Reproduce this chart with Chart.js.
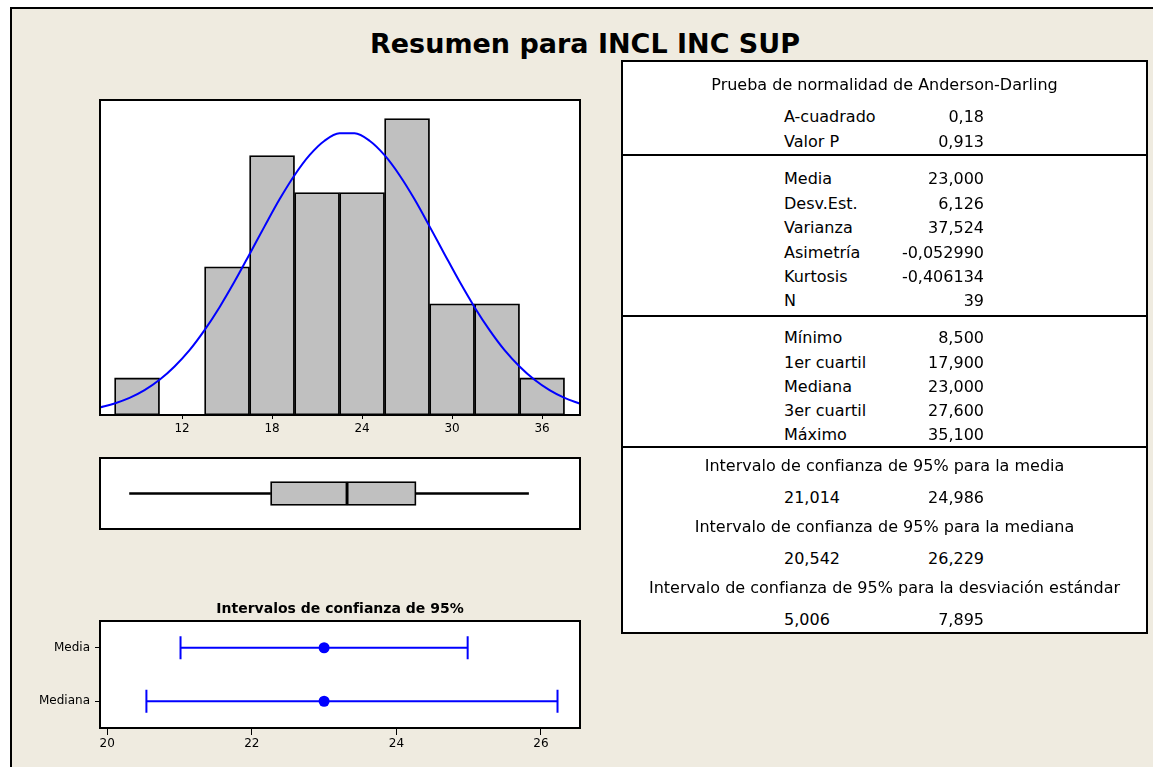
<!DOCTYPE html>
<html lang="es">
<head>
<meta charset="UTF-8">
<title>Resumen para INCL INC SUP</title>
<style>
  body { margin: 0; width: 1153px; height: 767px; overflow: hidden; background: #fff; font-family: "DejaVu Sans", sans-serif; color: #000; }
  #sheet { position: absolute; left: 10px; top: 7px; width: 1200px; height: 800px; background: #EFEBE0; border-left: 2px solid #000; border-top: 2px solid #000; }
  #stats { position: absolute; left: 621px; top: 60px; width: 523px; height: 570px; background: #fff; border: 2px solid #000; }
  .sep { position: absolute; left: 621px; width: 527px; height: 2px; background: #000; }
  .txt { position: absolute; white-space: nowrap; }
  canvas { position: absolute; }
</style>
<script src="https://cdn.jsdelivr.net/npm/chart.js"></script>
</head>
<body>
<div id="sheet"></div>
<div id="stats"></div>
<div class="sep" style="top:154px"></div>
<div class="sep" style="top:315px"></div>
<div class="sep" style="top:446px"></div>
<canvas id="hist" width="500" height="360" style="left:90px; top:90px"></canvas>
<canvas id="box" width="500" height="92" style="left:90px; top:448px"></canvas>
<canvas id="ci" width="570" height="157" style="left:20px; top:596px"></canvas>
<div id="texts"></div>

<script>
// histogram: bin centres and counts (bin width 3)
const binCenters = [9, 12, 15, 18, 21, 24, 27, 30, 33, 36];
const binCounts = [1, 0, 4, 7, 6, 6, 8, 3, 3, 1];
const histTicks = [12, 18, 24, 30, 36];

// fitted normal curve
const curveX = [6.5, 7.5, 8.5, 9.5, 10.5, 11.5, 12.5, 13.5, 14.5, 15.5, 16.5, 17.5, 18.5, 19.5, 20.5, 21.5, 22.5,
                23.5, 24.5, 25.5, 26.5, 27.5, 28.5, 29.5, 30.5, 31.5, 32.5, 33.5, 34.5, 35.5, 36.5, 37.5, 38.5];
const curveY = [0.20, 0.31, 0.46, 0.67, 0.95, 1.31, 1.75, 2.29, 2.91, 3.60, 4.34, 5.09, 5.82, 6.47, 7.01, 7.40, 7.60,
                7.60, 7.40, 7.01, 6.47, 5.82, 5.09, 4.34, 3.60, 2.91, 2.29, 1.75, 1.31, 0.95, 0.67, 0.46, 0.31];

// table values
const adLabels = ['A-cuadrado', 'Valor P'];
const adValues = ['0,18', '0,913'];
const momentLabels = ['Media', 'Desv.Est.', 'Varianza', 'Asimetría', 'Kurtosis', 'N'];
const momentValues = ['23,000', '6,126', '37,524', '-0,052990', '-0,406134', '39'];
const quantLabels = ['Mínimo', '1er cuartil', 'Mediana', '3er cuartil', 'Máximo'];
const quantValues = [8.5, 17.9, 23.0, 27.6, 35.1];

// 95% confidence intervals: media, mediana, desv. estándar
const ciTitles = ['Intervalo de confianza de 95% para la media',
                  'Intervalo de confianza de 95% para la mediana',
                  'Intervalo de confianza de 95% para la desviación estándar'];
const ciLower = [21.014, 20.542, 5.006];
const ciUpper = [24.986, 26.229, 7.895];
const ciRows = ['Media', 'Mediana'];
const ciCenters = [23.0, 23.0];
const ciTicks = [20, 22, 24, 26];

const fmt3 = v => v.toFixed(3).replace('.', ',');

// ---- text ----
const texts = document.getElementById('texts');
function put(str, x, baseline, align, size, bold) {
    const d = document.createElement('div');
    d.className = 'txt';
    d.textContent = str;
    d.style.fontSize = size + 'px';
    d.style.lineHeight = size + 'px';
    d.style.top = (baseline - 0.846 * size) + 'px';
    if (bold) d.style.fontWeight = 'bold';
    if (align === 'left') {
        d.style.left = x + 'px';
    } else {
        d.style.width = '600px';
        d.style.textAlign = align;
        d.style.left = (align === 'right' ? x - 600 : x - 300) + 'px';
    }
    texts.appendChild(d);
}

put('Resumen para INCL INC SUP', 585, 53, 'center', 27, true);

const labX = 784, valX = 984, midX = 884.5;
put('Prueba de normalidad de Anderson-Darling', midX, 91, 'center', 16);
adLabels.forEach((l, i) => { put(l, labX, 123 + 25 * i, 'left', 16); put(adValues[i], valX, 123 + 25 * i, 'right', 16); });
momentLabels.forEach((l, i) => { put(l, labX, 185 + 24.4 * i, 'left', 16); put(momentValues[i], valX, 185 + 24.4 * i, 'right', 16); });
quantLabels.forEach((l, i) => { put(l, labX, 344 + 24.2 * i, 'left', 16); put(fmt3(quantValues[i]), valX, 344 + 24.2 * i, 'right', 16); });
ciTitles.forEach((t, i) => {
    put(t, midX, 472 + 61 * i, 'center', 16);
    put(fmt3(ciLower[i]), labX, 503.5 + 61 * i, 'left', 16);
    put(fmt3(ciUpper[i]), valX, 503.5 + 61 * i, 'right', 16);
});

// ---- charts ----
Chart.defaults.font.family = '"DejaVu Sans", sans-serif';
Chart.defaults.color = '#000';

const framePlugin = {
    id: 'frame',
    beforeDraw(chart) {
        const a = chart.chartArea, c = chart.ctx;
        c.save();
        c.fillStyle = '#fff';
        c.fillRect(a.left, a.top, a.right - a.left, a.bottom - a.top);
        c.restore();
    },
    afterDatasetsDraw(chart) {
        const a = chart.chartArea, c = chart.ctx;
        c.save();
        c.strokeStyle = '#000';
        c.lineWidth = 2;
        c.strokeRect(a.left, a.top, a.right - a.left, a.bottom - a.top);
        c.restore();
    }
};

const noPad = s => { s.paddingLeft = 0; s.paddingRight = 0; };
const blue = '#0000FF';
const base = { responsive: false, animation: false, events: [],
               plugins: { legend: { display: false }, tooltip: { enabled: false } } };

// histogram with normal curve
new Chart(document.getElementById('hist'), {
    type: 'bar',
    data: {
        datasets: [
            { type: 'line', data: curveX.map((x, i) => ({ x: x, y: curveY[i] })), borderColor: blue, borderWidth: 2,
              pointRadius: 0, cubicInterpolationMode: 'monotone', fill: false },
            { type: 'bar', data: binCenters.map((x, i) => ({ x: x, y: binCounts[i] })), backgroundColor: '#C0C0C0',
              borderColor: '#000', borderWidth: 1.8, borderSkipped: false, barPercentage: 1, categoryPercentage: 1 }
        ]
    },
    options: Object.assign({}, base, {
        layout: { autoPadding: false, padding: { left: 10, right: 10, top: 10, bottom: 5 } },
        scales: {
            x: { type: 'linear', min: 6.53, max: 38.53, offset: false,
                 grid: { offset: false, drawOnChartArea: false, color: '#000', tickLength: 4 },
                 border: { display: false },
                 ticks: { font: { size: 12 }, padding: 3 },
                 afterBuildTicks: s => { s.ticks = histTicks.map(v => ({ value: v })); },
                 afterFit: s => { s.height = 30; noPad(s); } },
            y: { min: 0, max: 8.5, display: false }
        }
    }),
    plugins: [framePlugin]
});

// boxplot
const q = quantValues;
new Chart(document.getElementById('box'), {
    type: 'bar',
    data: {
        labels: ['INCL INC SUP'],
        datasets: [
            { data: [[q[0], q[1]]], backgroundColor: '#000', borderWidth: 0, barThickness: 2, grouped: false },
            { data: [[q[3], q[4]]], backgroundColor: '#000', borderWidth: 0, barThickness: 2, grouped: false },
            { data: [[q[1], q[2]]], backgroundColor: '#C0C0C0', borderColor: '#000', borderWidth: 1.8,
              borderSkipped: false, barThickness: 24, grouped: false },
            { data: [[q[2], q[3]]], backgroundColor: '#C0C0C0', borderColor: '#000', borderWidth: 1.8,
              borderSkipped: false, barThickness: 24, grouped: false }
        ]
    },
    options: Object.assign({}, base, {
        indexAxis: 'y',
        layout: { autoPadding: false, padding: { left: 10, right: 10, top: 10, bottom: 11 } },
        scales: {
            x: { type: 'linear', min: 6.53, max: 38.53, display: false },
            y: { display: false }
        }
    }),
    plugins: [framePlugin]
});

// confidence interval plot
const ciSets = ciRows.map((r, i) => ({
    type: 'line',
    data: [{ x: ciLower[i], y: r }, { x: ciUpper[i], y: r }],
    borderColor: blue, borderWidth: 2,
    pointStyle: 'line', pointRotation: 90, pointRadius: 11.5,
    pointBorderColor: blue, pointBorderWidth: 2, showLine: true
}));
ciSets.push({
    type: 'scatter',
    data: ciRows.map((r, i) => ({ x: ciCenters[i], y: r })),
    pointRadius: 5.5, backgroundColor: blue, borderWidth: 0
});

new Chart(document.getElementById('ci'), {
    type: 'scatter',
    data: { datasets: ciSets },
    options: Object.assign({}, base, {
        layout: { autoPadding: false, padding: { left: 0, right: 10, top: 0, bottom: 0 } },
        plugins: {
            legend: { display: false }, tooltip: { enabled: false },
            title: { display: true, fullSize: false, text: 'Intervalos de confianza de 95%',
                     font: { size: 14, weight: 'bold', lineHeight: 1 }, padding: { top: 6, bottom: 5 } }
        },
        scales: {
            x: { type: 'linear', min: 19.9, max: 26.54,
                 grid: { drawOnChartArea: false, color: '#000', tickLength: 7 },
                 border: { display: false },
                 ticks: { font: { size: 12 }, padding: 2 },
                 afterBuildTicks: s => { s.ticks = ciTicks.map(v => ({ value: v })); },
                 afterFit: s => { s.height = 25; noPad(s); } },
            y: { type: 'category', labels: ciRows, offset: true,
                 grid: { drawOnChartArea: false, offset: false, color: '#000', tickLength: 5 },
                 border: { display: false },
                 ticks: { font: { size: 12 }, padding: 5 },
                 afterFit: s => { s.width = 80; } }
        }
    }),
    plugins: [framePlugin]
});
</script>
</body>
</html>
